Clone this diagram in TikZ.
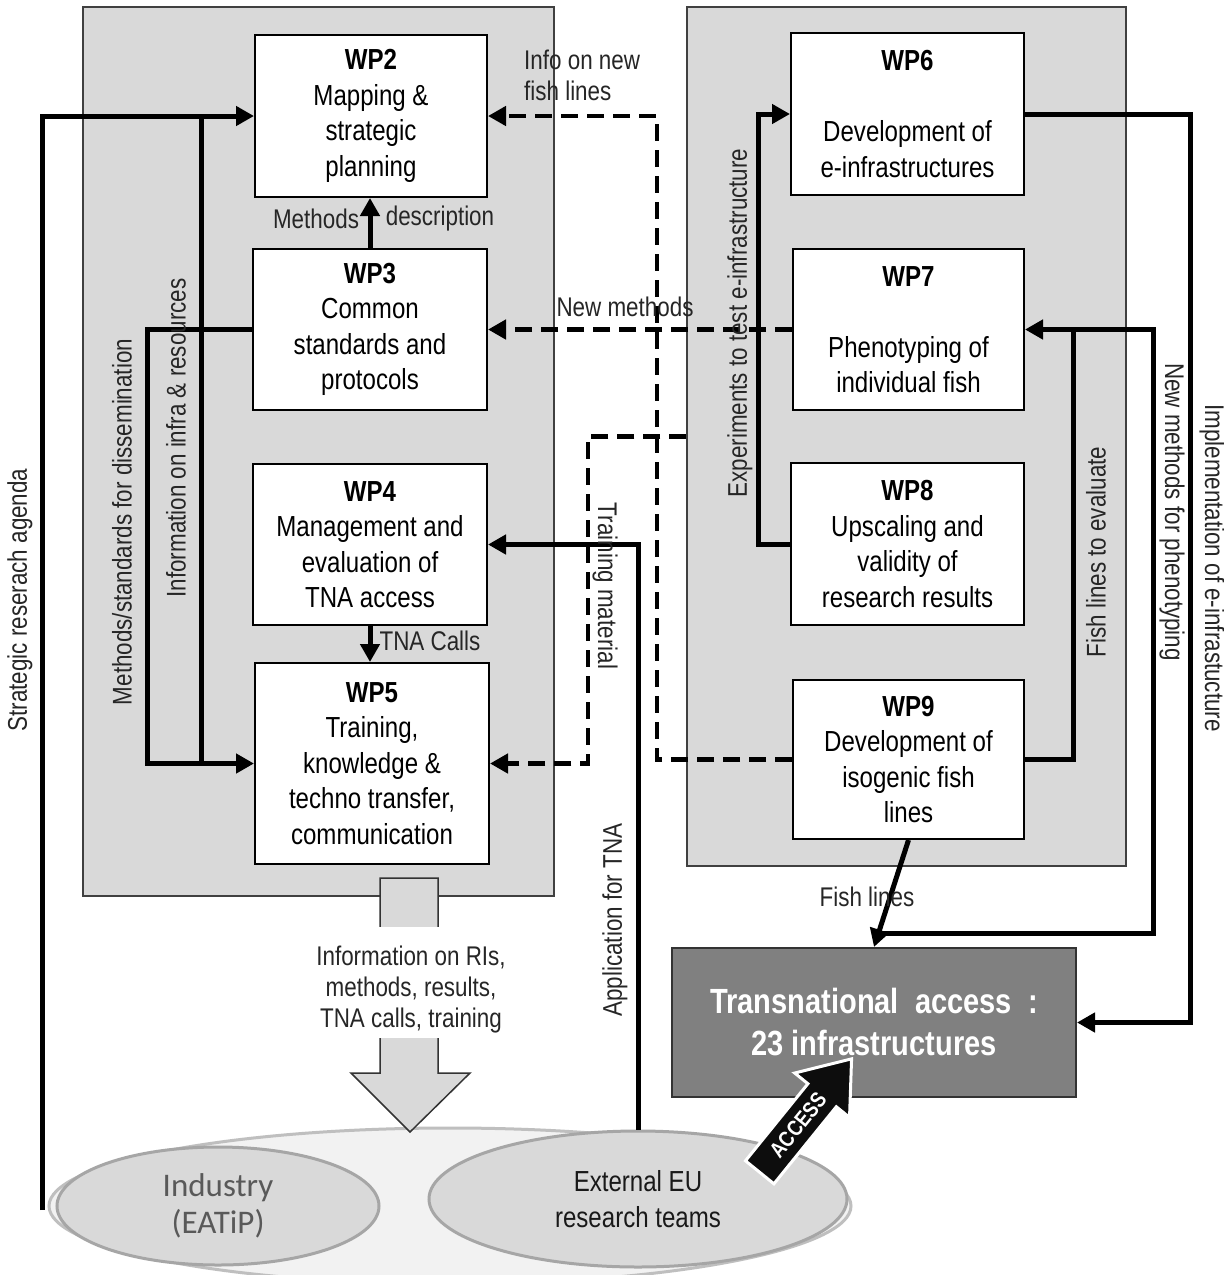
\documentclass[tikz,border=0pt]{standalone}
\usepackage{fontspec}
\setmainfont{Liberation Sans}[FakeStretch=0.83]
\newfontfamily\calfont{Carlito}
\usetikzlibrary{arrows.meta,shapes.geometric,shapes.arrows}
\definecolor{panelgray}{HTML}{D9D9D9}
\definecolor{lightbg}{HTML}{F2F2F2}
\definecolor{ellline}{HTML}{A6A6A6}
\definecolor{tagray}{HTML}{808080}
\newcommand\boxfnt{\fontsize{29}{35.5}\selectfont}
\newcommand\lblfnt{\fontsize{27}{31}\selectfont}
\newcommand\tafnt{\fontsize{35}{42}\selectfont\bfseries}
\newcommand\accfnt{\fontsize{22}{22}\selectfont\bfseries}
\newcommand\indfnt{\fontsize{33}{37}\selectfont\calfont}
\begin{document}
\begin{tikzpicture}[x=1pt,y=-1pt,
  panelbox/.style={draw=black!75, line width=1.5pt, fill=panelgray, inner sep=0pt},
  wpbox/.style={draw=black, line width=2pt, fill=white, align=center, inner sep=0pt, font=\boxfnt},
  lbl/.style={font=\lblfnt, text=black!85, inner sep=0pt},
  conn/.style={line width=5pt},
  dconn/.style={line width=4.5pt, dash pattern=on 17pt off 9pt},
  arr/.style={-{Triangle[length=18pt,width=19pt]}},
  grpell/.style={ellipse, draw=ellline, line width=3pt, inner sep=0pt, align=center},
]
\useasboundingbox (0,0) rectangle (1224,1275);
\fill[white] (0,0) rectangle (1224,1275);

% panels
\node[panelbox, minimum width=471pt, minimum height=889pt] (lp) at (318.5,451.5) {};
\node[panelbox, minimum width=439pt, minimum height=859pt] (rp) at (906.5,436.5) {};

% bottom group ellipses
\node[grpell, fill=lightbg, draw=black!25, minimum width=802pt, minimum height=156pt] (grp) at (450,1206) {};
\node[grpell, fill=panelgray, minimum width=322pt, minimum height=118pt, font=\indfnt, text=black!65] (ind) at (218,1206) {Industry\\(EATiP)};
\node[grpell, fill=panelgray, minimum width=418pt, minimum height=136pt, font=\boxfnt, text=black!90] (ext) at (638,1199) {External EU\\research teams};

% big information arrow
\draw[fill=panelgray, draw=black!80, line width=1.5pt] (380,878) -- (438,878) -- (438,1073) -- (470,1073) -- (410,1132) -- (351,1073) -- (380,1073) -- cycle;
\fill[white] (377,927) rectangle (441,1038);
\node[lbl, align=center] (info) at (411,990) {Information on RIs,\\methods, results,\\TNA calls, training};

% WP boxes
\node[wpbox, minimum width=232pt, minimum height=162pt] (wp2) at (371,116) {\textbf{WP2}\\Mapping \&\\strategic\\planning};
\node[wpbox, minimum width=234pt, minimum height=161pt] (wp3) at (370,329.5) {\textbf{WP3}\\Common\\standards and\\protocols};
\node[wpbox, minimum width=234pt, minimum height=161pt] (wp4) at (370,544.5) {\textbf{WP4}\\Management and\\evaluation of\\TNA access};
\node[wpbox, minimum width=234pt, minimum height=201pt] (wp5) at (372,763.5) {\textbf{WP5}\\Training,\\knowledge \&\\techno transfer,\\communication};
\node[wpbox, minimum width=233pt, minimum height=162pt] (wp6) at (907.5,114) {\textbf{WP6}\\~\\Development of\\e-infrastructures};
\node[wpbox, minimum width=231pt, minimum height=161pt] (wp7) at (908.5,329.5) {\textbf{WP7}\\~\\Phenotyping of\\individual fish};
\node[wpbox, minimum width=233pt, minimum height=162pt] (wp8) at (907.5,544) {\textbf{WP8}\\Upscaling and\\validity of\\research results};
\node[wpbox, minimum width=231pt, minimum height=159pt] (wp9) at (908.5,759.5) {\textbf{WP9}\\Development of\\isogenic fish\\lines};
\node[draw=black!80, line width=2pt, fill=tagray, minimum width=404pt, minimum height=149pt, align=center, font=\tafnt, text=white, inner sep=0pt] (ta) at (874,1022.5) {Transnational~ access~ :\\23 infrastructures};

% left side solid connectors
\coordinate (sbot) at (42,1210);
\draw[conn, arr] (sbot) -- (42,116) -- (wp2.west);
\draw[conn, arr] (201,116) |- (wp5.west);
\draw[conn] (wp3.west) -| (147,763.5) -- (201,763.5);
\draw[conn, arr] (wp3.north) -- (wp3.north |- wp2.south);
\draw[conn, arr] (wp4.south) -- (wp4.south |- wp5.north);
\draw[conn, arr] (ext.north) -- (ext.north |- wp4.east) -- (wp4.east);

% dashed connectors
\draw[dconn, arr] (wp9.west) -| (657,116) -- (wp2.east);
\draw[dconn, arr] (wp7.west) -- (wp3.east);
\draw[dconn, arr] (rp.west) -| (588,763.5) -- (wp5.east);

% right side solid connectors
\draw[conn, arr] (wp8.west) -| (758,114) -- (wp6.west);
\draw[conn, arr] (wp9.east) -| (1073,329.5) -- (wp7.east);
\draw[conn, arr] (wp6.east) -| (1190,1022.5) -- (ta.east);
\draw[conn] (1073,329.5) -- (1153,329.5) -- (1153,933) -- (879,933);
\draw[conn, arr] (wp9.south) -- (ta.north);

% ACCESS arrow
\node[single arrow, fill=black!95, draw=white, line width=3pt, single arrow head extend=17pt, single arrow head indent=0pt, single arrow tip angle=74, minimum height=146pt, inner xsep=5pt, inner ysep=9pt, text=white, font=\accfnt, rotate=51] (acc) at (798,1125) {ACCESS};

% labels
\node[lbl, align=left, anchor=west] (linfo) at (524,75) {Info on new\\fish lines};
\node[lbl] (lmeth) at (316,219) {Methods};
\node[lbl] (ldesc) at (440,219) {description};
\node[lbl] (lnew) at (625,307) {New methods};
\node[lbl] (ltna) at (430,641) {TNA Calls};
\node[lbl] (lfish) at (867,897) {Fish lines};
\node[lbl, rotate=90] (lstrat) at (20,600) {Strategic reserach agenda};
\node[lbl, rotate=90] (lmsd) at (122,522) {Methods/standards for dissemination};
\node[lbl, rotate=90] (linfra) at (176,438) {Information on infra \& resources};
\node[lbl, rotate=-90] (ltrain) at (605,586) {Training material};
\node[lbl, rotate=90] (lapp) at (615,920) {Application for TNA};
\node[lbl, rotate=90] (lexp) at (740,323) {Experiments to test e-infrastructure};
\node[lbl, rotate=90] (lfte) at (1096,552) {Fish lines to evaluate};
\node[lbl, rotate=-90] (lnmp) at (1172,512) {New methods for phenotyping};
\node[lbl, rotate=-90] (limp) at (1212,568) {Implementation of e-infrastucture};
\end{tikzpicture}
\end{document}
